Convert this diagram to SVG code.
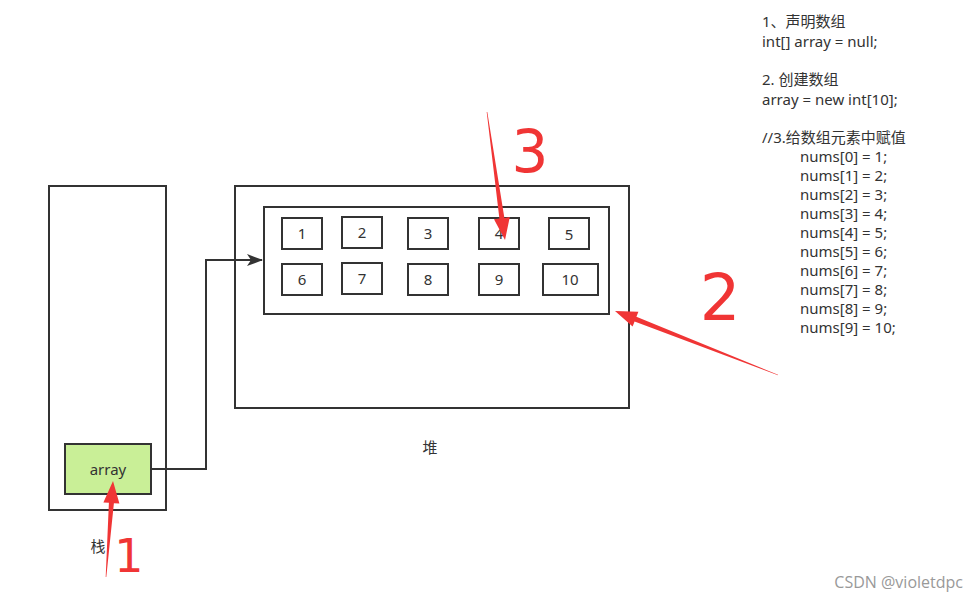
<svg xmlns="http://www.w3.org/2000/svg" width="979" height="603" viewBox="0 0 979 603">
<defs>
<style>
.box{fill:#fff;stroke:#333;stroke-width:2}
.lbl{font-family:"Noto Sans","Noto Sans CJK SC",sans-serif;font-size:15px;fill:#333;text-anchor:middle}
.code{font-family:"Noto Sans","Noto Sans CJK SC",sans-serif;font-size:15px;fill:#333}
.red{fill:#f03535}
.hand{font-family:"DejaVu Sans",sans-serif;fill:#f03535;text-anchor:middle}
</style>
<marker id="ah" markerWidth="16" markerHeight="12" refX="15" refY="6" orient="auto" markerUnits="userSpaceOnUse">
<path d="M0,0 L16,6 L0,12 L4,6 Z" fill="#333"/>
</marker>
</defs>
<rect width="979" height="603" fill="#fff"/>

<g id="stack">
<rect class="box" x="49" y="186" width="117" height="324"/>
<text class="lbl" x="98" y="552">栈</text>
</g>
<g id="array">
<rect x="65" y="444" width="86" height="50" fill="#c9ef97" stroke="#333" stroke-width="2"/>
<text class="lbl" x="108" y="475">array</text>
</g>

<g id="heap">
<rect class="box" x="235" y="186" width="394" height="222"/>
<text class="lbl" x="430" y="453">堆</text>
</g>
<g id="arraybox">
<rect class="box" x="264" y="207" width="345" height="107"/>
</g>
<g id="cell1"><rect class="box" x="282" y="218" width="40" height="31"/><text class="lbl" x="302" y="239">1</text></g>
<g id="cell2"><rect class="box" x="342" y="217" width="40" height="31"/><text class="lbl" x="362" y="238">2</text></g>
<g id="cell3"><rect class="box" x="408" y="218" width="40" height="31"/><text class="lbl" x="428" y="239">3</text></g>
<g id="cell4"><rect class="box" x="479" y="218" width="40" height="31"/><text class="lbl" x="499" y="239">4</text></g>
<g id="cell5"><rect class="box" x="549" y="218" width="40" height="31"/><text class="lbl" x="569" y="240">5</text></g>
<g id="cell6"><rect class="box" x="282" y="264" width="40" height="31"/><text class="lbl" x="302" y="285">6</text></g>
<g id="cell7"><rect class="box" x="342" y="263" width="40" height="31"/><text class="lbl" x="362" y="284">7</text></g>
<g id="cell8"><rect class="box" x="408" y="264" width="40" height="31"/><text class="lbl" x="428" y="285">8</text></g>
<g id="cell9"><rect class="box" x="479" y="264" width="40" height="31"/><text class="lbl" x="499" y="285">9</text></g>
<g id="cell10"><rect class="box" x="543" y="264" width="55" height="31"/><text class="lbl" x="570" y="285">10</text></g>

<g id="connectors">
<polyline points="151,469 206,469 206,260 262,260" fill="none" stroke="#333" stroke-width="2" marker-end="url(#ah)"/>
</g>

<g id="code">
<text class="code" x="762" y="27">1、声明数组</text>
<text class="code" x="762" y="47">int[] array = null;</text>
<text class="code" x="762" y="85">2. 创建数组</text>
<text class="code" x="762" y="105">array = new int[10];</text>
<text class="code" x="762" y="143">//3.给数组元素中赋值</text>
<text class="code" x="800" y="162">nums[0] = 1;</text>
<text class="code" x="800" y="181">nums[1] = 2;</text>
<text class="code" x="800" y="200">nums[2] = 3;</text>
<text class="code" x="800" y="219">nums[3] = 4;</text>
<text class="code" x="800" y="238">nums[4] = 5;</text>
<text class="code" x="800" y="257">nums[5] = 6;</text>
<text class="code" x="800" y="276">nums[6] = 7;</text>
<text class="code" x="800" y="295">nums[7] = 8;</text>
<text class="code" x="800" y="314">nums[8] = 9;</text>
<text class="code" x="800" y="333">nums[9] = 10;</text>
</g>

<g id="annotations">
<polygon class="red" points="105.7,577 108.9,502.8 103.4,502.4 113,481 119.4,503.6 113.9,503.2 106.3,577"/>
<polygon class="red" points="487.3,112 504.4,217.9 509.8,217.1 505,240 494.0,219.3 499.4,218.5 486.7,112"/>
<polygon class="red" points="778,374.7 636.4,316.8 638.4,311.7 615,311 632.6,326.5 634.6,321.4 778,375.3"/>
<text class="hand" x="129" y="572" font-size="46">1</text>
<text class="hand" x="530" y="172" font-size="58">3</text>
<text class="hand" x="720" y="320" font-size="64">2</text>
</g>

<text x="963" y="588" font-family="'Open Sans','Noto Sans',sans-serif" font-size="16" fill="#999" text-anchor="end">CSDN @violetdpc</text>
</svg>
